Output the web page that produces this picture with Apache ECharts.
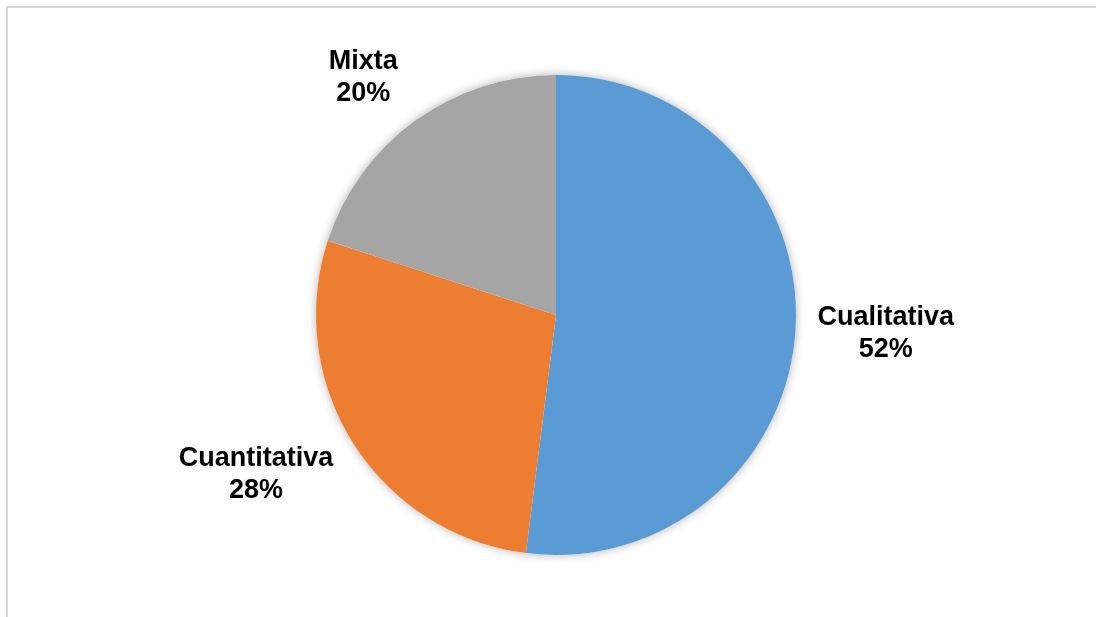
<!DOCTYPE html>
<html>
<head>
<meta charset="utf-8">
<script src="https://cdn.jsdelivr.net/npm/echarts@6/dist/echarts.min.js"></script>
<style>
html,body{margin:0;padding:0;background:#fff;}
#chart{width:1096px;height:617px;}
</style>
</head>
<body>
<div id="chart"></div>
<script>
const categories = ['Cualitativa', 'Cuantitativa', 'Mixta'];
const values = [52, 28, 20];
const colors = ['#5B9BD5', '#ED7D31', '#A5A5A5'];
// label leader geometry (hidden lines) per slice: [length, length2]
const labelGeom = [[62, -45], [57, -33], [53, -19]];

const chart = echarts.init(document.getElementById('chart'), null, {renderer: 'canvas'});
const option = {
  animation: false,
  backgroundColor: '#ffffff',
  graphic: [{
    type: 'rect',
    shape: {x: 7, y: 7, width: 2000, height: 2000},
    style: {fill: 'none', stroke: '#d9d9d9', lineWidth: 2},
    silent: true
  }],
  series: [{
    // shadow underlay for the whole pie
    type: 'pie',
    center: [556, 315],
    radius: 240,
    silent: true,
    z: 1,
    label: {show: false},
    labelLine: {show: false},
    emphasis: {disabled: true},
    itemStyle: {
      color: '#ffffff',
      borderWidth: 0,
      shadowBlur: 10,
      shadowColor: 'rgba(0,0,0,0.3)'
    },
    data: [{name: '', value: 1}]
  }, {
    type: 'pie',
    center: [556, 315],
    radius: 240,
    z: 2,
    startAngle: 90,
    clockwise: true,
    avoidLabelOverlap: false,
    emphasis: {disabled: true},
    itemStyle: {borderWidth: 0},
    label: {
      show: true,
      position: 'outside',
      alignTo: 'none',
      distanceToLabelLine: 5,
      formatter: function (p) {
        return '{a|' + p.name + '}\n{a|' + p.value + '%}';
      },
      rich: {
        a: {
          fontFamily: '"Liberation Sans", Arial, sans-serif',
          fontWeight: 'bold',
          fontSize: 27,
          lineHeight: 32,
          color: '#000000',
          align: 'center'
        }
      }
    },
    data: categories.map(function (c, i) {
      return {
        name: c,
        value: values[i],
        itemStyle: {color: colors[i]},
        labelLine: {show: false, length: labelGeom[i][0], length2: labelGeom[i][1]}
      };
    })
  }]
};
chart.setOption(option);
</script>
</body>
</html>
